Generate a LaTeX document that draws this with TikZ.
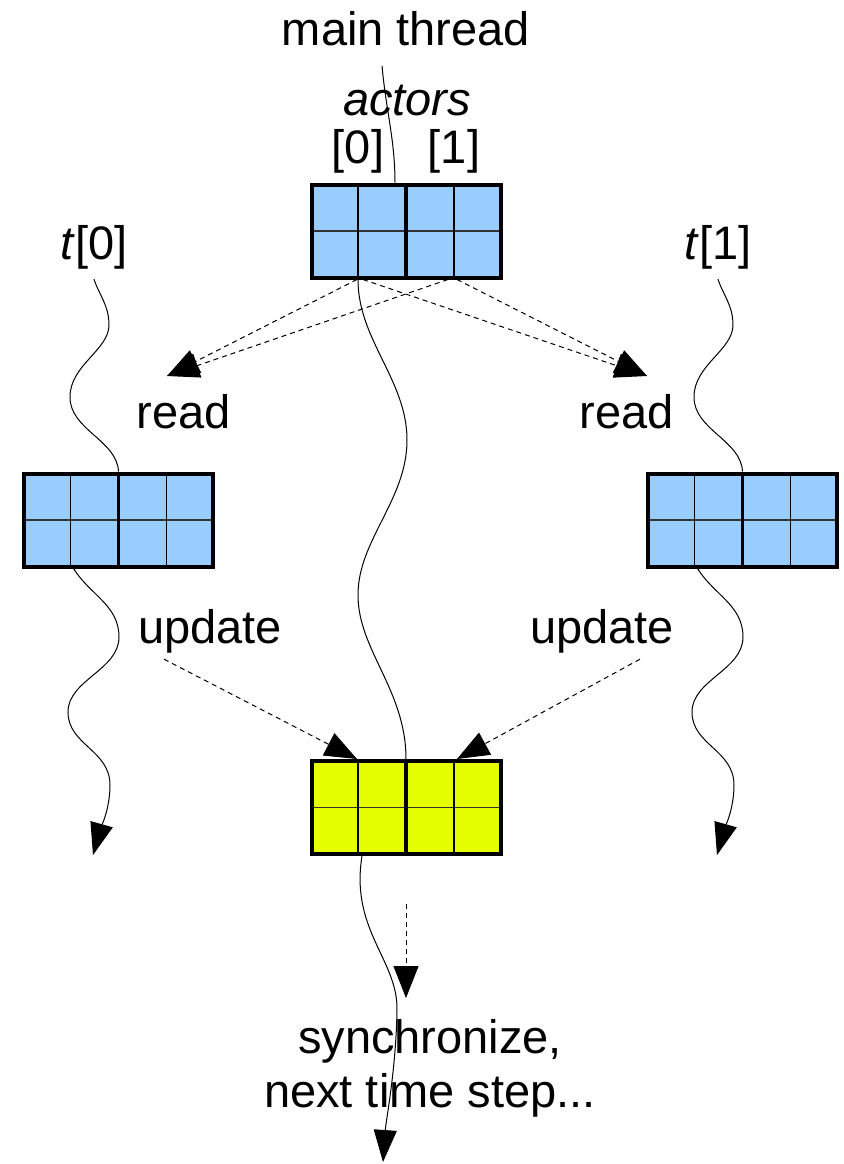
\documentclass[tikz,border=0pt]{standalone}
\usepackage{fontspec}
\setmainfont{Liberation Sans}
\usepackage{tikz}
\usetikzlibrary{arrows.meta}
\usetikzlibrary{positioning}

\definecolor{cellblue}{RGB}{153,204,255}
\definecolor{cellyellow}{RGB}{230,255,0}

\begin{document}
\begin{tikzpicture}[x=0.5pt,y=-0.5pt,
  font=\fontsize{23.5}{27}\selectfont,
  lbl/.style={inner sep=3pt, anchor=base},
  cells/.style={draw, line width=2pt, fill=#1, minimum width=94.5pt, minimum height=46.5pt, inner sep=0pt,
    path picture={
      \draw[line width=0.6pt, black!80] (path picture bounding box.west) -- (path picture bounding box.east);
      \foreach \dx in {-24pt,24pt}
        \draw[line width=0.6pt] ([xshift=\dx]path picture bounding box.north) -- ([xshift=\dx]path picture bounding box.south);
      \draw[line width=1.8pt] (path picture bounding box.north) -- (path picture bounding box.south);
    }},
  thread/.style={line width=0.5pt},
  tip/.style={-{Triangle[length=16pt,width=11.5pt]}},
  flow/.style={line width=0.5pt, dash pattern=on 2.5pt off 2pt, -{Triangle[length=16pt,width=12.5pt]}}]
  \useasboundingbox (0,0) rectangle (844,1164);

  % arrays
  \node [cells=cellblue] (actarr) at (406,231) {};
  \node [cells=cellblue] (oldarr0) at (118.5,520) {};
  \node [cells=cellblue] (oldarr1) at (742.5,520) {};
  \node [cells=cellyellow] (newarr) at (406,807.5) {};

  % labels
  \node [lbl] (mainlbl) at (406,45) {main thread};
  \node [lbl] (actlbl) at (407,115) {\textit{actors}};
  \node [lbl] (idx0) at (358,163) {[0]};
  \node [lbl] (idx1) at (454,163) {[1]};
  \node [lbl] (tlbl0) at (94,259) {\textit{t}[0]};
  \node [lbl] (tlbl1) at (718,259) {\textit{t}[1]};
  \node [lbl] (read0) at (184,428) {read};
  \node [lbl] (read1) at (627,428) {read};
  \node [lbl] (upd0) at (210,643) {update};
  \node [lbl] (upd1) at (602,643) {update};
  \node [align=center] (sync) at (430,1068) {synchronize,\\next time step...};

  \coordinate (rdtip0) at (167,376);
  \coordinate (rdtip1) at (647,376);
  \coordinate (mainend) at (383,1162);

  % main thread
  \draw [thread] ([xshift=-12pt,yshift=-7pt]mainlbl.south) .. controls (386,110) and (395,140) .. ([xshift=-5.5pt]actarr.north);
  \draw [thread] ([xshift=-24pt]actarr.south) .. controls (358,340) and (407,380) .. (407,440)
    .. controls (407,500) and (358,540) .. (358,595)
    .. controls (358,650) and (406,690) .. (newarr.north);
  \draw [thread,tip] ([xshift=-22pt]newarr.south) .. controls (350,930) and (398,960) .. (397,1010)
    .. controls (396,1070) and (386,1120) .. (mainend);

  % worker threads
  \foreach \i/\dx in {0/0,1/624} {
    \begin{scope}[shift={(\dx,0)}]
      \coordinate (tend\i) at (93,855);
      \draw [thread] ([yshift=-2pt]tlbl\i.south) .. controls (99,295) and (109,305) .. (109,325)
        .. controls (109,350) and (70,365) .. (70,397)
        .. controls (70,430) and (117,440) .. (oldarr\i.north);
      \draw [thread,tip] ([xshift=-22.5pt]oldarr\i.south) .. controls (90,595) and (119,605) .. (119,637)
        .. controls (119,670) and (68,680) .. (68,712)
        .. controls (68,745) and (110,750) .. (110,785)
        .. controls (110,810) and (100,830) .. (tend\i);
    \end{scope}
  }

  % read
  \draw [flow] ([xshift=-24.5pt]actarr.south) -- (rdtip0);
  \draw [flow] ([xshift=21pt]actarr.south) -- (rdtip0);
  \draw [flow] ([xshift=-21.5pt]actarr.south) -- (rdtip1);
  \draw [flow] ([xshift=25.5pt]actarr.south) -- (rdtip1);

  % update
  \draw [flow] ([xshift=-23pt]upd0.south) -- ([xshift=-24.5pt]newarr.north);
  \draw [flow] ([xshift=19pt]upd1.south) -- ([xshift=25.5pt]newarr.north);

  % synchronize
  \draw [flow] ([yshift=-24pt]newarr.south) -- ([xshift=-12pt,yshift=7pt]sync.north);

\end{tikzpicture}
\end{document}
